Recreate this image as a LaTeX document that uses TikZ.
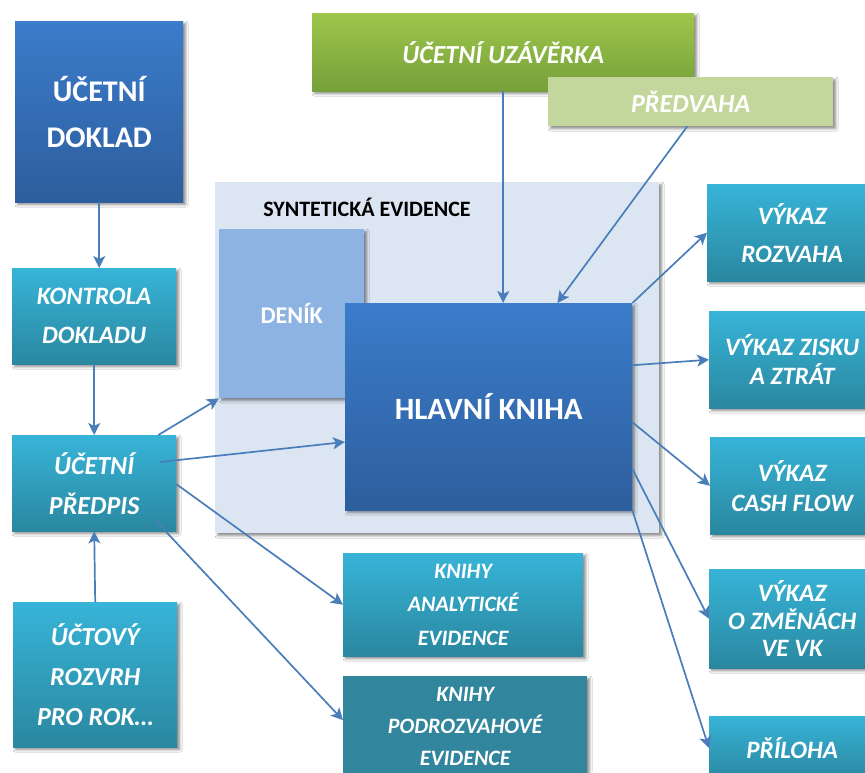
\documentclass[tikz,border=0pt]{standalone}
\usepackage{fontspec}
\setmainfont{Carlito}
\usetikzlibrary{calc,shadows.blur,arrows.meta}

\definecolor{dkA}{HTML}{3B7CCB}
\definecolor{dkB}{HTML}{2D5E9D}
\definecolor{cyA}{HTML}{37B4D8}
\definecolor{cyB}{HTML}{2A879F}
\definecolor{grA}{HTML}{9DC64B}
\definecolor{grB}{HTML}{76A03A}
\definecolor{lgr}{HTML}{C3D69B}
\definecolor{bgb}{HTML}{DCE6F2}
\definecolor{den}{HTML}{8DB3E2}
\definecolor{tealbox}{HTML}{31859C}
\definecolor{arr}{HTML}{4A7EBB}

\tikzset{
  sh/.style={blur shadow={shadow xshift=2.5pt, shadow yshift=-2.5pt, shadow blur radius=2.5pt, shadow opacity=45}},
  base/.style={sh, anchor=north west, inner sep=0pt, align=center, text=white},
  darkbox/.style={base, top color=dkA, bottom color=dkB},
  cybox/.style={base, top color=cyA, bottom color=cyB},
  greenbox/.style={base, top color=grA, bottom color=grB},
  lgbox/.style={base, fill=lgr},
  denbox/.style={base, fill=den},
  tealb/.style={base, fill=tealbox},
  bi/.style 2 args={font=\bfseries\itshape\fontsize{#1}{#2}\selectfont},
  bu/.style 2 args={font=\bfseries\fontsize{#1}{#2}\selectfont},
  con/.style={draw=arr, line width=1.7pt, -{Stealth[length=12pt,width=12pt,inset=3pt]}},
}

\begin{document}
\begin{tikzpicture}[x=1pt,y=-1pt]
\useasboundingbox (0,0) rectangle (865,772);
\fill[white] (0,0) rectangle (865,772);

% synthetic evidence background
\node[base, fill=bgb, minimum width=444pt, minimum height=351pt] (syn) at (215,182) {};
\node[font=\bfseries\fontsize{22}{24}\selectfont, text=black, inner sep=0pt] (syntitle) at (367,207) {SYNTETICKÁ EVIDENCE};

% left column
\node[darkbox, bu={30}{46}, minimum width=168pt, minimum height=181pt] (doklad) at (15,21) {ÚČETNÍ\\DOKLAD};
\node[cybox, bi={25}{39}, minimum width=164pt, minimum height=96pt] (kontrola) at (12,268) {KONTROLA\\DOKLADU};
\node[cybox, bi={26}{40}, minimum width=164pt, minimum height=96pt] (predpis) at (12,435) {ÚČETNÍ\\PŘEDPIS};
\node[cybox, bi={26}{40}, minimum width=164pt, minimum height=145pt] (uctovy) at (13,602) {ÚČTOVÝ\\ROZVRH\\PRO ROK…};

% top
\node[greenbox, bi={26}{30}, minimum width=382pt, minimum height=78pt] (uzaverka) at (312,13) {ÚČETNÍ UZÁVĚRKA};
\node[lgbox, bi={26}{30}, minimum width=285pt, minimum height=49pt] (predvaha) at (548,77) {PŘEDVAHA};

% center
\node[denbox, bu={24}{28}, minimum width=145pt, minimum height=169pt] (denik) at (219,229) {DENÍK};
\node[darkbox, bu={31}{34}, minimum width=287pt, minimum height=207pt] (hlavni) at (345,303) {HLAVNÍ KNIHA};

% bottom middle
\node[cybox, bi={22}{33.5}, minimum width=240pt, minimum height=103pt] (analyticke) at (343,553) {KNIHY\\ANALYTICKÉ\\EVIDENCE};
\node[tealb, bi={22}{32}, minimum width=244pt, minimum height=100pt] (podroz) at (343,676) {KNIHY\\PODROZVAHOVÉ\\EVIDENCE};

% right column
\node[cybox, bi={25}{38}, minimum width=170pt, minimum height=97pt] (rozvaha) at (707,184) {VÝKAZ\\ROZVAHA};
\node[cybox, bi={25}{29}, minimum width=166pt, minimum height=97pt] (zisku) at (709,311) {VÝKAZ ZISKU\\A ZTRÁT};
\node[cybox, bi={25}{30}, minimum width=164pt, minimum height=97pt] (cash) at (710,437) {VÝKAZ\\CASH FLOW};
\node[cybox, bi={25}{27.5}, minimum width=166pt, minimum height=99pt] (zmenach) at (709,569) {VÝKAZ\\O ZMĚNÁCH\\VE VK};
\node[cybox, bi={25}{29}, minimum width=166pt, minimum height=64pt] (priloha) at (709,716) {PŘÍLOHA};

% connectors
\draw[con] (doklad.south) -- (doklad.south |- kontrola.north);
\draw[con] (kontrola.south) -- (predpis.north);
\draw[con] (uctovy.north) -- (predpis.south);
\draw[con] (uzaverka.south) -- (uzaverka.south |- hlavni.north);
\draw[con] ($(predvaha.south west)!0.488!(predvaha.south east)$) -- ($(hlavni.north west)!0.739!(hlavni.north east)$);
\draw[con] ($(predpis.north west)!0.89!(predpis.north east)$) -- (denik.south west);
\draw[con] ($(predpis.north west)+(148,27)$) -- ($(hlavni.north west)!0.67!(hlavni.south west)$);
\draw[con] ($(predpis.north east)!0.51!(predpis.south east)$) -- (analyticke.west);
\draw[con] ($(predpis.north west)+(143,85)$) -- ($(podroz.north west)!0.44!(podroz.south west)$);
\draw[con] (hlavni.north east) -- (rozvaha.west);
\draw[con] ($(hlavni.north east)!0.30!(hlavni.south east)$) -- (zisku.west);
\draw[con] ($(hlavni.north east)!0.575!(hlavni.south east)$) -- (cash.west);
\draw[con] ($(hlavni.north east)!0.80!(hlavni.south east)$) -- (zmenach.west);
\draw[con] (hlavni.south east) -- (priloha.west);
\end{tikzpicture}
\end{document}
